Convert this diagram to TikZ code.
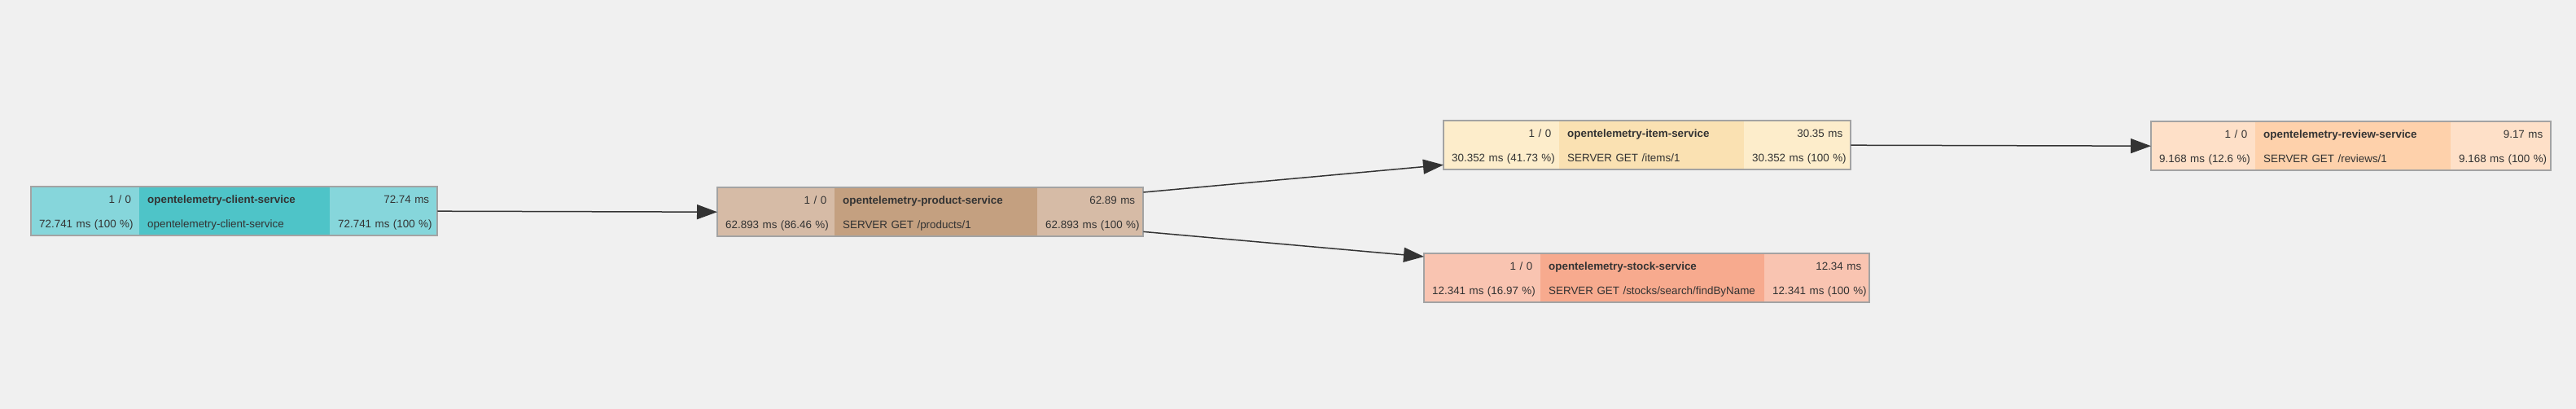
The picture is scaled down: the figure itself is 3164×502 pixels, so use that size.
\documentclass[tikz,border=0pt]{standalone}
\usepackage{fontspec}
\setmainfont{Liberation Sans}
\usetikzlibrary{matrix}
\usetikzlibrary{arrows.meta}
\usepackage{xcolor}

\definecolor{bg}{HTML}{F0F0F0}
\definecolor{boxgray}{HTML}{A3A3A3}
\definecolor{textgray}{HTML}{333333}
\definecolor{clientlt}{HTML}{86D6DB}
\definecolor{clientdk}{HTML}{4EC4C8}
\definecolor{productlt}{HTML}{D6BBA6}
\definecolor{productdk}{HTML}{C4A080}
\definecolor{itemlt}{HTML}{FDEDCB}
\definecolor{itemdk}{HTML}{FAE1B2}
\definecolor{stocklt}{HTML}{F9C4B1}
\definecolor{stockdk}{HTML}{F7AA8E}
\definecolor{reviewlt}{HTML}{FEE0C8}
\definecolor{reviewdk}{HTML}{FED1AB}

\tikzset{
  svcbox/.style={matrix of nodes, anchor=north west, inner sep=0pt,
    column sep=0pt, row sep=0pt,
    nodes={inner xsep=10pt, inner ysep=0pt, text=textgray,
      text height=9.6pt, text depth=0pt,
      font=\fontsize{13.4}{16}\selectfont,
      execute at begin node={\leavevmode\hbox\bgroup},
      execute at end node={\egroup}},
    row 1/.style={nodes={minimum height=31pt}},
    row 2/.style={nodes={minimum height=29pt}}},
  cellL/.style={text width=#1, align=right},
  cellM/.style={text width=#1, align=left},
  cellR/.style={text width=#1, align=right},
  frame/.style={draw=boxgray, line width=2pt},
  link/.style={draw=textgray, line width=1.5pt, -{Triangle[length=25pt,width=18pt]}}
}

\begin{document}
\begin{tikzpicture}[x=1pt, y=-1pt]

\useasboundingbox[fill=bg] (0,0) rectangle (3164,502);

\matrix (client) [svcbox,
  column 1/.style={nodes={cellL=113pt, fill=clientlt}},
  column 2/.style={nodes={cellM=214pt, fill=clientdk}},
  column 3/.style={nodes={cellR=112pt, fill=clientlt}}] at (38,229) {
  1 / 0 & \textbf{opentelemetry-client-service} & 72.74 ms \\
  72.741 ms (100 \%) & opentelemetry-client-service & 72.741 ms (100 \%) \\
};

\matrix (product) [svcbox,
  column 1/.style={nodes={cellL=124pt, fill=productlt}},
  column 2/.style={nodes={cellM=229pt, fill=productdk}},
  column 3/.style={nodes={cellR=110pt, fill=productlt}}] at (881,230) {
  1 / 0 & \textbf{opentelemetry-product-service} & 62.89 ms \\
  62.893 ms (86.46 \%) & SERVER GET /products/1 & 62.893 ms (100 \%) \\
};

\matrix (item) [svcbox,
  column 1/.style={nodes={cellL=122pt, fill=itemlt}},
  column 2/.style={nodes={cellM=207pt, fill=itemdk}},
  column 3/.style={nodes={cellR=111pt, fill=itemlt}}] at (1773,148) {
  1 / 0 & \textbf{opentelemetry-item-service} & 30.35 ms \\
  30.352 ms (41.73 \%) & SERVER GET /items/1 & 30.352 ms (100 \%) \\
};

\matrix (stock) [svcbox,
  column 1/.style={nodes={cellL=123pt, fill=stocklt}},
  column 2/.style={nodes={cellM=255pt, fill=stockdk}},
  column 3/.style={nodes={cellR=109pt, fill=stocklt}}] at (1749,311) {
  1 / 0 & \textbf{opentelemetry-stock-service} & 12.34 ms \\
  12.341 ms (16.97 \%) & SERVER GET /stocks/search/findByName & 12.341 ms (100 \%) \\
};

\matrix (review) [svcbox,
  column 1/.style={nodes={cellL=108pt, fill=reviewlt}},
  column 2/.style={nodes={cellM=220pt, fill=reviewdk}},
  column 3/.style={nodes={cellR=103pt, fill=reviewlt}}] at (2642,149) {
  1 / 0 & \textbf{opentelemetry-review-service} & 9.17 ms \\
  9.168 ms (12.6 \%) & SERVER GET /reviews/1 & 9.168 ms (100 \%) \\
};

\foreach \s in {client,product,item,stock,review}
  \draw[frame] (\s.north west) rectangle (\s.south east);

\draw[link] (client.east) -- (product.west);
\draw[link] ([yshift=-6pt]product.north east) -- ([yshift=6pt]item.south west);
\draw[link] ([yshift=6pt]product.south east) -- ([yshift=-4pt]stock.north west);
\draw[link] (item.east) -- (review.west);

\end{tikzpicture}
\end{document}
